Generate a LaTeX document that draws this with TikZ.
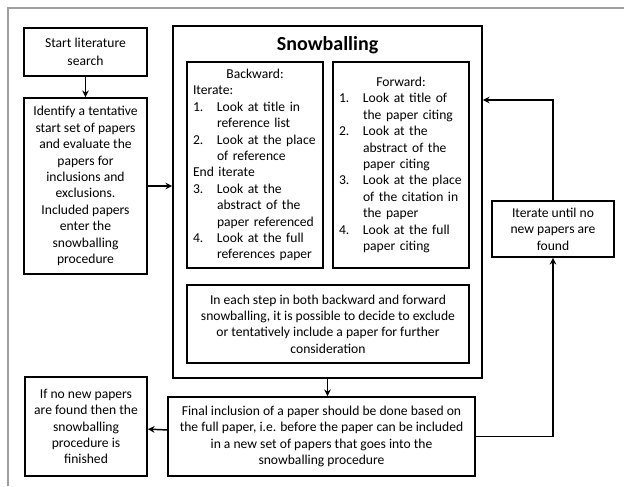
\documentclass[tikz,border=0pt]{standalone}
\usepackage{fontspec}
\setmainfont{Carlito}
\usepackage{tikz}
\usetikzlibrary{arrows.meta,positioning,calc}
\newlength{\numw}
\setlength{\numw}{18pt}
\newcommand{\numline}[2]{\makebox[\numw][l]{#1}#2}
\newcommand{\contline}[1]{\hspace*{\numw}#1}
\newcommand{\listhead}[1]{\makebox[\linewidth]{#1}}

\begin{document}
\begin{tikzpicture}[x=0.75pt, y=-0.75pt,
    box/.style={draw=black, line width=1.3pt, align=center, inner sep=3pt, font=\fontsize{10.2}{12.3}\selectfont},
    listbox/.style={draw=black, line width=1.3pt, align=left, inner sep=4.5pt, text width=93pt, minimum height=154.5pt, font=\fontsize{10.2}{12.3}\selectfont},
    link/.style={line width=1.1pt, -{Stealth[length=5pt,width=5pt]}},
    frame/.style={draw=gray!75, line width=1.6pt}
]
\useasboundingbox (0,0) rectangle (624,486);
\draw[frame] (8,486) -- (8,8) -- (624,8);

\node[box, minimum width=92.25pt, minimum height=36pt, font=\fontsize{10.2}{13.5}\selectfont] (start) at (85.5,52) {Start literature\\search};
\node[box, minimum width=92.25pt, minimum height=132pt] (ident) at (85.5,186) {Identify a tentative\\start set of papers\\and evaluate the\\papers for\\inclusions and\\exclusions.\\Included papers\\enter the\\snowballing\\procedure};

\node[box, minimum width=231.75pt, minimum height=264pt] (snow) at (327.5,202) {};
\node[font=\fontsize{15}{18}\selectfont\bfseries] (title) at (327.5,45) {Snowballing};

\node[listbox] (back) at (255,165) {\listhead{Backward:}\\
Iterate:\\
\numline{1.}{Look at title in}\\
\contline{reference list}\\
\numline{2.}{Look at the place}\\
\contline{of reference}\\
End iterate\\
\numline{3.}{Look at the}\\
\contline{abstract of the}\\
\contline{paper referenced}\\
\numline{4.}{Look at the full}\\
\contline{references paper}};

\node[listbox] (fwd) at (401,165) {\listhead{Forward:}\\
\numline{1.}{Look at title of}\\
\contline{the paper citing}\\
\numline{2.}{Look at the}\\
\contline{abstract of the}\\
\contline{paper citing}\\
\numline{3.}{Look at the place}\\
\contline{of the citation in}\\
\contline{the paper}\\
\numline{4.}{Look at the full}\\
\contline{paper citing}};

\node[box, minimum width=211.5pt, minimum height=58.5pt] (note) at (328,324) {In each step in both backward and forward\\snowballing, it is possible to decide to exclude\\or tentatively include a paper for further\\consideration};

\node[box, minimum width=230.25pt, minimum height=59.25pt] (final) at (321.5,436.5) {Final inclusion of a paper should be done based on\\the full paper, i.e. before the paper can be included\\in a new set of papers that goes into the\\snowballing procedure};
\node[box, minimum width=91.5pt, minimum height=74.25pt] (done) at (86,426.5) {If no new papers\\are found then the\\snowballing\\procedure is\\finished};
\node[box, minimum width=91.5pt, minimum height=42pt] (iter) at (553,229) {Iterate until no\\new papers are\\found};

\coordinate (loopin) at (snow.east |- 0,100);

\draw[link] (start) -- (ident);
\draw[link] (ident.east) -- (ident.east -| snow.west);
\draw[link] (snow.south) -- (snow.south |- final.north);
\draw[link] (final) -- (done);
\draw[link] (final.east) -| (iter.south);
\draw[link] (iter.north) |- (loopin);
\end{tikzpicture}
\end{document}
